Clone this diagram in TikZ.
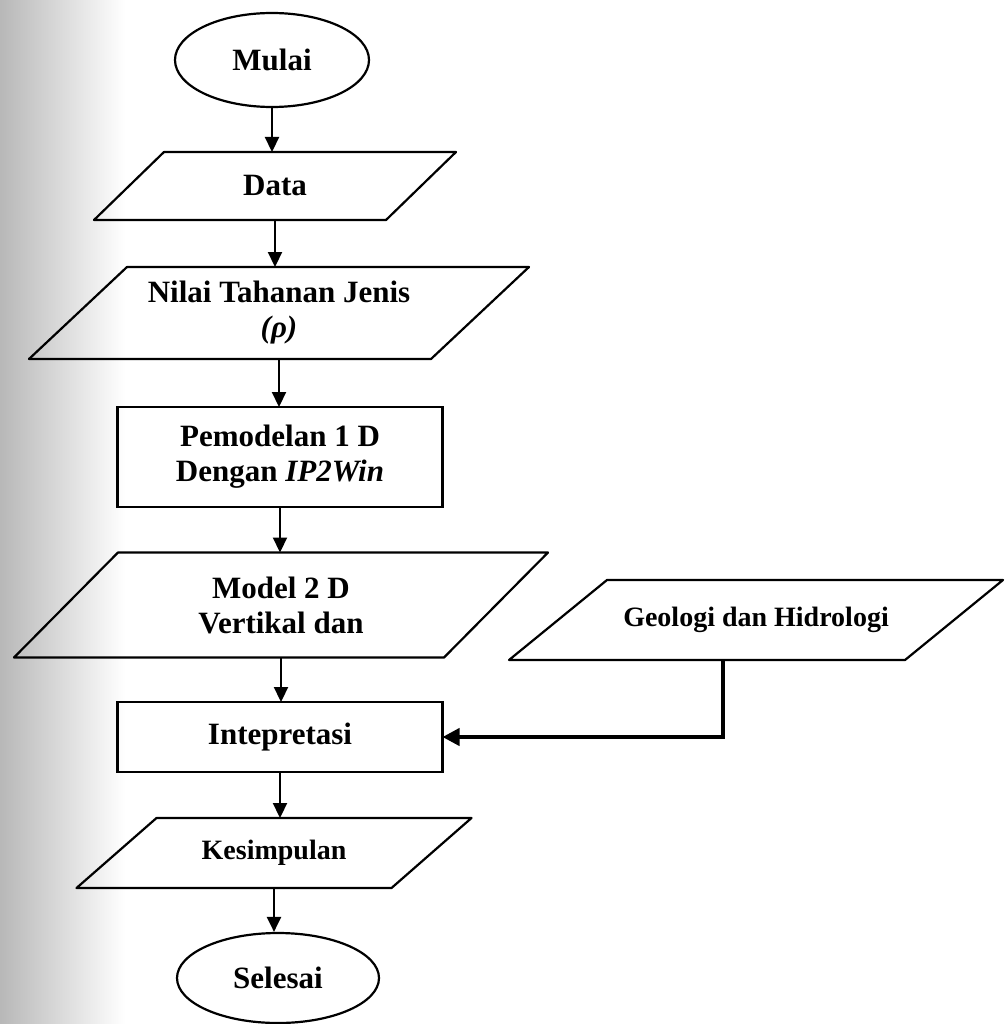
\documentclass[tikz,border=0pt]{standalone}
\usepackage{fontspec}
\setmainfont{Liberation Serif}
\usetikzlibrary{positioning, shapes.geometric, arrows.meta}

% slanted input/output box round a named node
\newcommand{\iobox}[2]{%
  \draw[line width=2.2pt, line join=round] ([xshift=#2]#1.north west) -- ([xshift=#2]#1.north east)
    -- ([xshift=-#2]#1.south east) -- ([xshift=-#2]#1.south west) -- cycle;}

\begin{document}
\begin{tikzpicture}[x=1pt, y=-1pt,
    every node/.style={font=\bfseries\fontsize{31}{35}\selectfont, align=center},
    term/.style={ellipse, draw, line width=2.2pt, inner sep=0pt},
    proc/.style={rectangle, draw, line width=2.2pt, outer sep=0pt},
    io/.style={rectangle, outer sep=0pt},
    arr/.style={line width=2.2pt, -{Triangle[length=15pt, width=14pt]}}]
    \useasboundingbox (0,0) rectangle (1004,1024);
    % scan shadow on the left edge
    \shade[left color=black!28, right color=white] (0,0) rectangle (125,1024);

    % flow
    \node[term, minimum width=194, minimum height=94] (mulai) at (272,60) {Mulai};
    \node[io, minimum width=292, minimum height=68] (data) at (275,186) {Data};
    \node[io, minimum width=402, minimum height=92] (nilai) at (279,313) {Nilai Tahanan Jenis\\{\itshape (ρ)}};
    \node[proc, minimum width=325, minimum height=100] (model1d) at (280,457) {Pemodelan 1 D\\Dengan {\itshape IP2Win}};
    \node[io, minimum width=430, minimum height=105] (model2d) at (281,605) {Model 2 D\\Vertikal dan};
    \node[io, minimum width=396, minimum height=80, font=\bfseries\fontsize{28}{33}\selectfont] (geo) at (756,620) {Geologi dan Hidrologi};
    \node[proc, minimum width=325, minimum height=70] (interp) at (280,737) {Intepretasi};
    \node[io, minimum width=315, minimum height=70, font=\bfseries\fontsize{28}{33}\selectfont] (simpul) at (274,853) {Kesimpulan};
    \node[term, minimum width=202, minimum height=90] (selesai) at (278,978) {Selesai};

    \iobox{data}{35}
    \iobox{nilai}{49}
    \iobox{model2d}{52}
    \iobox{geo}{49}
    \iobox{simpul}{40}

    % arrows
    \draw[arr] (mulai.south) -- (mulai.south |- data.north);
    \draw[arr] (data.south) -- (data.south |- nilai.north);
    \draw[arr] (nilai.south) -- (nilai.south |- model1d.north);
    \draw[arr] (model1d.south) -- (model1d.south |- model2d.north);
    \draw[arr] (model2d.south) -- (model2d.south |- interp.north);
    \draw[arr] (interp.south) -- (interp.south |- simpul.north);
    \draw[arr] (simpul.south) -- (simpul.south |- selesai.north);
    \draw[line width=4pt, -{Triangle[length=17pt, width=17pt]}] ([xshift=-33]geo.south) |- (interp.east);
\end{tikzpicture}
\end{document}
